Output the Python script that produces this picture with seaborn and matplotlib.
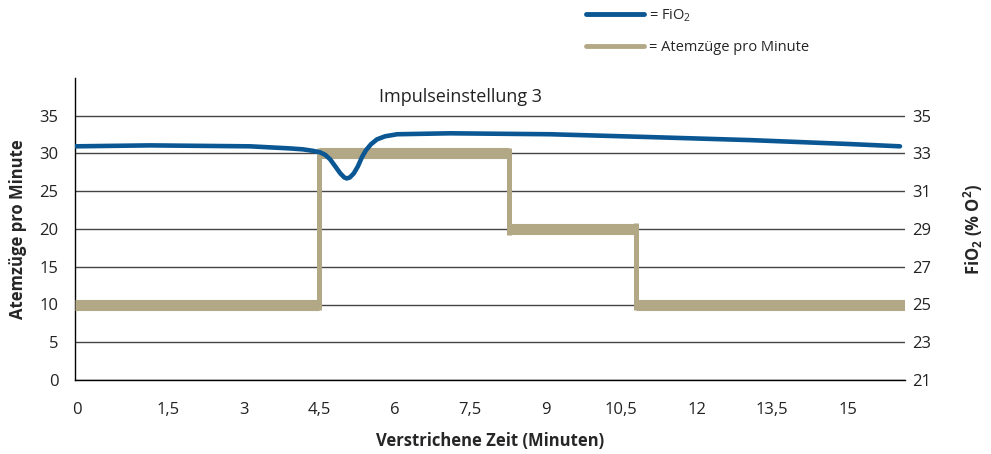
import matplotlib
matplotlib.use('Agg')
import matplotlib.pyplot as plt
import seaborn as sns
from matplotlib.lines import Line2D

# Atemzüge pro Minute (Stufen), Zeit in Minuten
resp_start = [-0.35, 4.5, 8.27, 10.8]
resp_end = [4.5, 8.27, 10.8, 16.14]
resp_values = [10, 30, 20, 10]

# FiO2 Verlauf
fio2_time = [-0.35, 1.14, 3.13, 3.92, 4.18, 4.38, 4.52, 4.62, 4.72, 4.82, 4.92,
             5.0, 5.05, 5.11, 5.19, 5.27, 5.35, 5.43, 5.53, 5.65, 5.81, 6.05,
             7.1, 9.09, 11.07, 13.06, 15.05, 16.04]
fio2_values = [33.38, 33.43, 33.38, 33.27, 33.22, 33.14, 33.06, 32.93, 32.69, 32.32, 31.95,
               31.73, 31.68, 31.73, 31.95, 32.32, 32.8, 33.17, 33.49, 33.75, 33.91, 34.02,
               34.07, 34.02, 33.87, 33.71, 33.5, 33.38]

x_ticks = [-0.31, 1.5, 3, 4.5, 6, 7.5, 9, 10.5, 12, 13.5, 15]
x_labels = ['0', '1,5', '3', '4,5', '6', '7,5', '9', '10,5', '12', '13,5', '15']

blau = '#0b5793'
gold = '#b3a886'

sns.set_style('white')
plt.rcParams['font.family'] = ['Open Sans', 'DejaVu Sans']
plt.rcParams['mathtext.default'] = 'regular'

fig = plt.figure(figsize=(9.91, 4.54), dpi=100)
ax = fig.add_axes([75/991, 1-380/454, 830/991, 302/454])
ax2 = ax.twinx()

# Stufen: waagerecht dick, senkrecht dünn
ax.hlines(resp_values, resp_start, resp_end, color=gold, lw=8, zorder=3)
for i in range(1, len(resp_values)):
    lo = min(resp_values[i-1], resp_values[i]) - 0.73
    hi = max(resp_values[i-1], resp_values[i]) + 0.73
    ax.vlines(resp_start[i], lo, hi, color=gold, lw=3.6, zorder=3)

sns.lineplot(x=fio2_time, y=fio2_values, ax=ax2, color=blau, lw=3.3,
             sort=False, estimator=None)
ax2.lines[0].set_solid_joinstyle('round')

ax.set_xlim(-0.35, 16.14)
ax.set_ylim(0, 40)
ax.set_yticks(range(0, 40, 5))
ax2.set_ylim(21, 37)
ax2.set_yticks(range(21, 37, 2))
ax.set_xticks(x_ticks)
ax.set_xticklabels(x_labels)

ax.set_axisbelow(True)
ax.yaxis.grid(True, color='#444444', lw=1)
ax.xaxis.grid(False)
for s in ['top', 'right']:
    ax.spines[s].set_visible(False)
for s in ['left', 'bottom']:
    ax.spines[s].set_color('black')
    ax.spines[s].set_linewidth(1)
for s in ax2.spines.values():
    s.set_visible(False)

ax.tick_params(axis='y', length=0, pad=12, labelsize=12, colors='#222222')
ax.tick_params(axis='x', length=0, pad=16, labelsize=12, colors='#222222')
ax2.tick_params(axis='y', length=0, pad=5, labelsize=12, colors='#222222')

ax.set_xlabel('Verstrichene Zeit (Minuten)', fontsize=12, fontweight='bold', labelpad=10)
ax.set_ylabel('Atemzüge pro Minute', fontsize=12, fontweight='bold', labelpad=9)
ax2.set_ylabel('FiO$_2$ (% O$^2$)', fontsize=12, fontweight='bold', rotation=90, labelpad=22)

ax.text(0.464, 0.937, 'Impulseinstellung 3', transform=ax.transAxes,
        ha='center', va='center', fontsize=13, color='#222222')

handles = [Line2D([0], [0], color=blau, lw=3.5), Line2D([0], [0], color=gold, lw=3.5)]
fig.legend(handles, ['= FiO$_2$', '= Atemzüge pro Minute'], loc='upper left',
           bbox_to_anchor=(586/991, 0.984), frameon=False, fontsize=10.5,
           handlelength=4, handletextpad=0.35, labelspacing=1.1,
           borderpad=0, borderaxespad=0)

fig.savefig('out.png', dpi=100)
